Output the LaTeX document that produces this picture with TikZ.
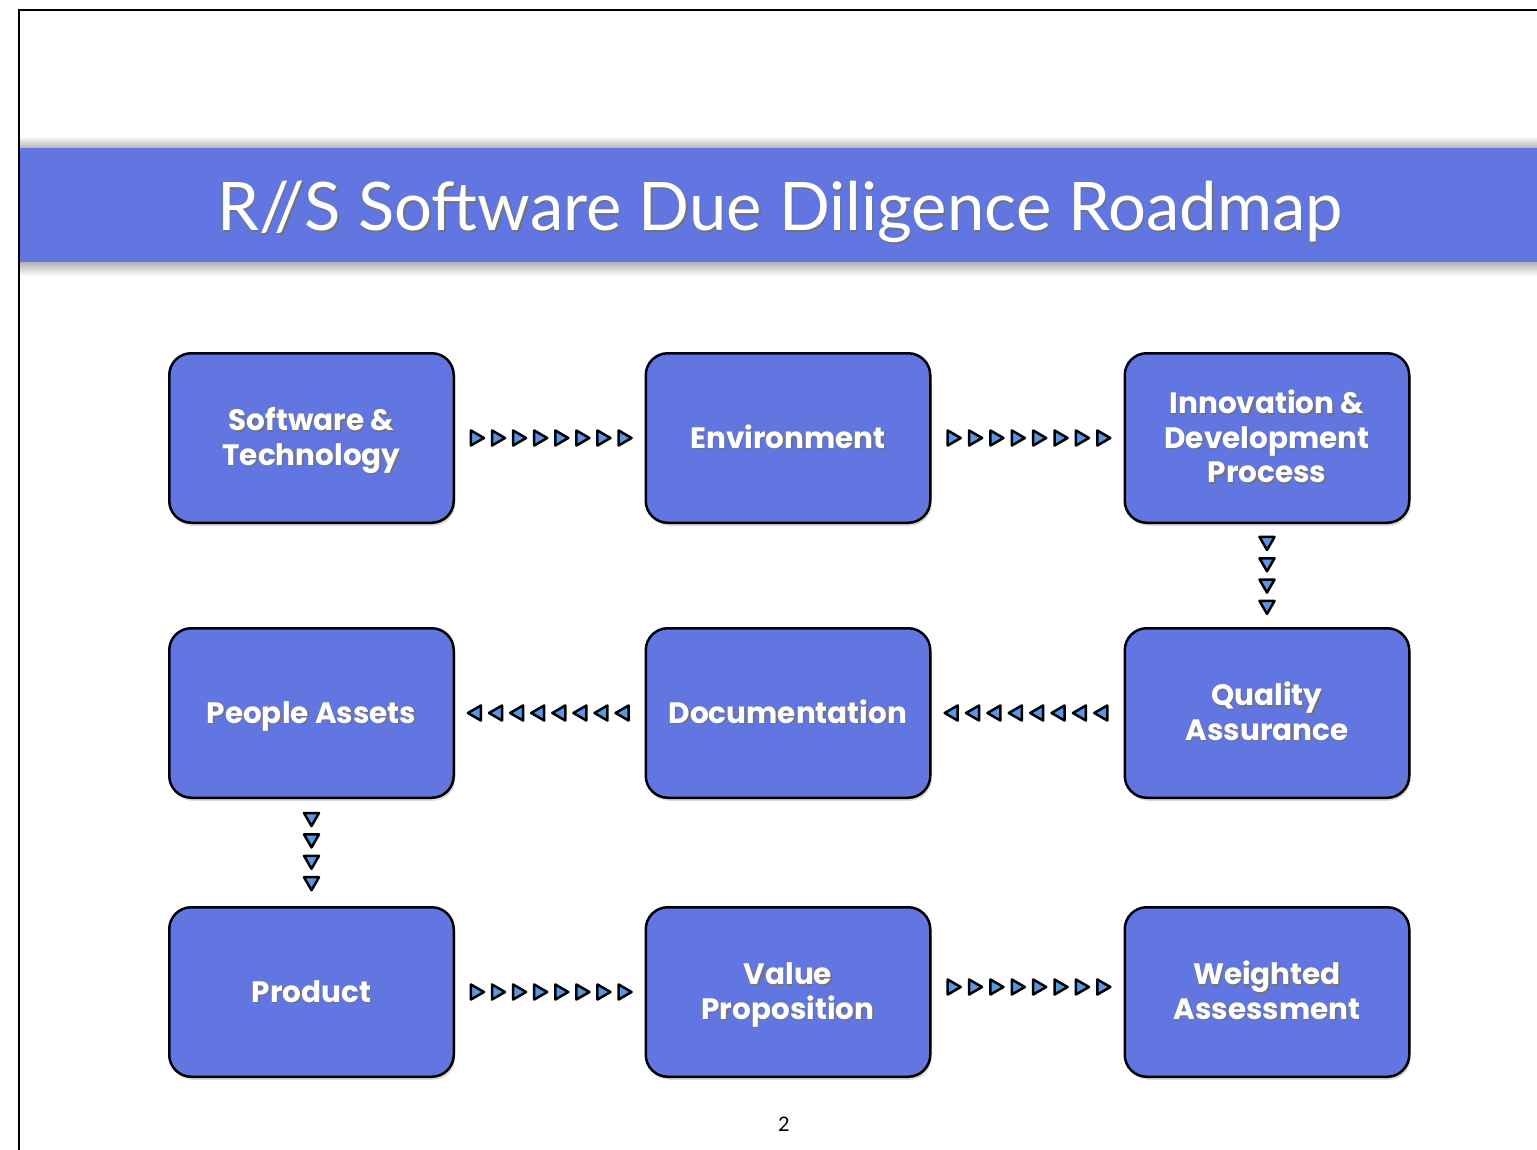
\documentclass[tikz,border=0pt]{standalone}
\usepackage{fontspec}
\setmainfont{Lato}
\newfontfamily\boxfont{Poppins}
\usetikzlibrary{decorations.markings,shadows}
\definecolor{slideblue}{RGB}{98,118,226}
\definecolor{triblue}{RGB}{88,150,232}
\newcommand\glowtxt[1]{\leavevmode\rlap{\raisebox{-1.6pt}{\hspace{1.4pt}\textcolor{black!55}{#1}}}#1}
\newcommand\mlines[1]{\glowtxt{\raisebox{-4pt}[\dimexpr\height+4pt\relax][\dimexpr\depth+4pt\relax]{\begin{tabular}{@{}c@{}}#1\end{tabular}}}}
\tikzset{
  rbox/.style={draw=black, line width=2.5pt, fill=slideblue, rounded corners=22pt,
    minimum width=284.5pt, minimum height=169.5pt, text=white, inner sep=0pt,
    font=\boxfont\bfseries\fontsize{29.5}{34.5}\selectfont, align=center,
    drop shadow={shadow xshift=1.5pt, shadow yshift=-3pt, opacity=0.3}},
  tri chain/.style={decorate, decoration={markings,
    mark=between positions #1 with {\filldraw[fill=triblue, draw=black, line width=2.5pt, line join=round]
      (-6,-7.5) -- (7,0) -- (-6,7.5) -- cycle;}}},
}
\begin{document}
\begin{tikzpicture}[x=1pt,y=-1pt]
\useasboundingbox (0,0) rectangle (1537,1150);
% frame
\draw[line width=2.5pt] (19,1152) -- (19,10) -- (1540,10);
% title bar
\shade[top color=white, bottom color=black!30] (20,136) rectangle (1537,148);
\shade[top color=black!30, bottom color=white] (20,262) rectangle (1537,276);
\fill[slideblue] (20,148) rectangle (1537,262);
\node[anchor=base, text=white, font=\fontsize{67}{80}\selectfont] (title) at (780,231) {\glowtxt{R//S Software Due Diligence Roadmap}};
% boxes
\node[rbox] (st)  at (311.5,438) {\mlines{Software \&\\Technology}};
\node[rbox] (env) at (788,438) {\mlines{Environment}};
\node[rbox] (idp) at (1267,438) {\mlines{Innovation \&\\Development\\Process}};
\node[rbox] (pa)  at (311.5,713) {\mlines{People Assets}};
\node[rbox] (doc) at (788,713) {\mlines{Documentation}};
\node[rbox] (qa)  at (1267,713) {\mlines{Quality\\Assurance}};
\node[rbox] (prod) at (311.5,992) {\mlines{Product}};
\node[rbox] (vp)  at (788,992) {\mlines{Value\\Proposition}};
\node[rbox] (wa)  at (1267,992) {\mlines{Weighted\\Assessment}};
% connectors
\path[tri chain={0.1158 and 0.9 step 0.1113}] (st.east) -- (env.west);
\path[tri chain={0.1158 and 0.9 step 0.1113}] (env.east) -- (idp.west);
\path[tri chain={0.184 and 0.81 step 0.207}] (idp.south) -- (qa.north);
\path[tri chain={0.1158 and 0.9 step 0.1113}] (qa.west) -- (doc.east);
\path[tri chain={0.1158 and 0.9 step 0.1113}] (doc.west) -- (pa.east);
\path[tri chain={0.187 and 0.81 step 0.2}] (pa.south) -- (prod.north);
\path[tri chain={0.1158 and 0.9 step 0.1113}] (prod.east) -- (vp.west);
\path[tri chain={0.1158 and 0.9 step 0.1113}] ([yshift=5pt]vp.east) -- ([yshift=5pt]wa.west);
% page number
\node[font=\fontsize{20}{24}\selectfont] (pg) at (784,1124) {2};
\end{tikzpicture}
\end{document}
